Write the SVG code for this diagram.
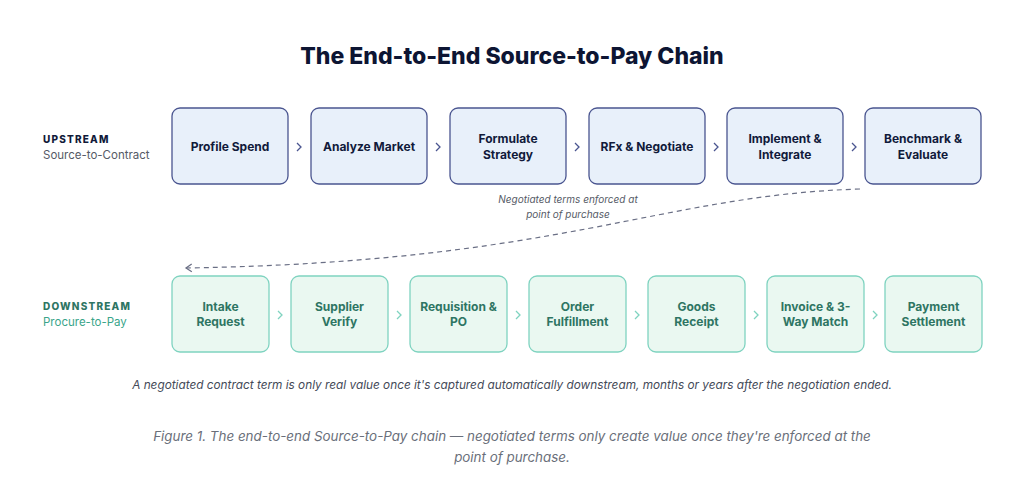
<svg xmlns="http://www.w3.org/2000/svg" width="1024" height="498" viewBox="0 0 1024 498">
<defs>
<style>
text{font-family:Inter,"Liberation Sans",sans-serif}
.up rect{fill:#e8f0fa;stroke:#4a5590;stroke-width:1.3}
.up text{fill:#111a3a;font-size:12px;font-weight:700;text-anchor:middle}
.dn rect{fill:#eaf8f1;stroke:#7fd3c0;stroke-width:1.3}
.dn text{fill:#2e7563;font-size:12px;font-weight:700;text-anchor:middle}
.chev{fill:none;stroke-width:1.3}
</style>
<marker id="ah" viewBox="0 0 10 10" refX="8" refY="5" markerWidth="8" markerHeight="8" orient="auto"><path d="M2 1L8 5L2 9" fill="none" stroke="#6a6f85" stroke-width="1.3"/></marker>
</defs>
<rect width="1024" height="498" fill="#fff"/>
<text x="512" y="64" text-anchor="middle" font-size="23" font-weight="800" fill="#0d1533">The End-to-End Source-to-Pay Chain</text>
<text x="43" y="143" font-size="10" font-weight="800" letter-spacing="1.2" fill="#111a3a">UPSTREAM</text>
<text x="43" y="159" font-size="11.5" fill="#555a66">Source-to-Contract</text>
<text x="43" y="310" font-size="10" font-weight="800" letter-spacing="1.2" fill="#2e7563">DOWNSTREAM</text>
<text x="43" y="326" font-size="11.5" fill="#3aa58a">Procure-to-Pay</text>
<g class="up">
<g id="u1"><rect x="172" y="108" width="116" height="76" rx="8"/><text x="230" y="151">Profile Spend</text></g>
<g id="u2"><rect x="311" y="108" width="116" height="76" rx="8"/><text x="369" y="151">Analyze Market</text></g>
<g id="u3"><rect x="450" y="108" width="116" height="76" rx="8"/><text x="508" y="143">Formulate</text><text x="508" y="159">Strategy</text></g>
<g id="u4"><rect x="589" y="108" width="116" height="76" rx="8"/><text x="647" y="151">RFx &amp; Negotiate</text></g>
<g id="u5"><rect x="727" y="108" width="116" height="76" rx="8"/><text x="785" y="143">Implement &amp;</text><text x="785" y="159">Integrate</text></g>
<g id="u6"><rect x="865" y="108" width="116" height="76" rx="8"/><text x="923" y="143">Benchmark &amp;</text><text x="923" y="159">Evaluate</text></g>
</g>
<g class="dn">
<g id="d1"><rect x="172" y="276" width="97" height="76" rx="8"/><text x="220.5" y="311">Intake</text><text x="220.5" y="326">Request</text></g>
<g id="d2"><rect x="291" y="276" width="97" height="76" rx="8"/><text x="339.5" y="311">Supplier</text><text x="339.5" y="326">Verify</text></g>
<g id="d3"><rect x="410" y="276" width="97" height="76" rx="8"/><text x="458.5" y="311">Requisition &amp;</text><text x="458.5" y="326">PO</text></g>
<g id="d4"><rect x="529" y="276" width="97" height="76" rx="8"/><text x="577.5" y="311">Order</text><text x="577.5" y="326">Fulfillment</text></g>
<g id="d5"><rect x="648" y="276" width="97" height="76" rx="8"/><text x="696.5" y="311">Goods</text><text x="696.5" y="326">Receipt</text></g>
<g id="d6"><rect x="767" y="276" width="97" height="76" rx="8"/><text x="815.5" y="311">Invoice &amp; 3-</text><text x="815.5" y="326">Way Match</text></g>
<g id="d7"><rect x="885" y="276" width="97" height="76" rx="8"/><text x="933.5" y="311">Payment</text><text x="933.5" y="326">Settlement</text></g>
</g>
<g id="connectors">
<g class="chev" stroke="#4a5590">
<path d="M297 143l4 4-4 4"/><path d="M436 143l4 4-4 4"/><path d="M575 143l4 4-4 4"/><path d="M714 143l4 4-4 4"/><path d="M852 143l4 4-4 4"/>
</g>
<g class="chev" stroke="#7fd3c0">
<path d="M278 311l4 4-4 4"/><path d="M397 311l4 4-4 4"/><path d="M516 311l4 4-4 4"/><path d="M635 311l4 4-4 4"/><path d="M754 311l4 4-4 4"/><path d="M873 311l4 4-4 4"/>
</g>
<path d="M860 189 C660 195 560 262 186 268" fill="none" stroke="#6a6f85" stroke-width="1.2" stroke-dasharray="5 4" marker-end="url(#ah)"/>
</g>
<text x="568" y="203" text-anchor="middle" font-size="10" font-style="italic" fill="#555a66">Negotiated terms enforced at</text>
<text x="568" y="218" text-anchor="middle" font-size="10" font-style="italic" fill="#555a66">point of purchase</text>
<text x="512" y="389" text-anchor="middle" font-size="11.8" font-style="italic" fill="#444a58">A negotiated contract term is only real value once it's captured automatically downstream, months or years after the negotiation ended.</text>
<text x="512" y="441" text-anchor="middle" font-size="13.4" font-style="italic" fill="#6a6f7a">Figure 1. The end-to-end Source-to-Pay chain — negotiated terms only create value once they're enforced at the</text>
<text x="512" y="462" text-anchor="middle" font-size="13.4" font-style="italic" fill="#6a6f7a">point of purchase.</text>
</svg>
